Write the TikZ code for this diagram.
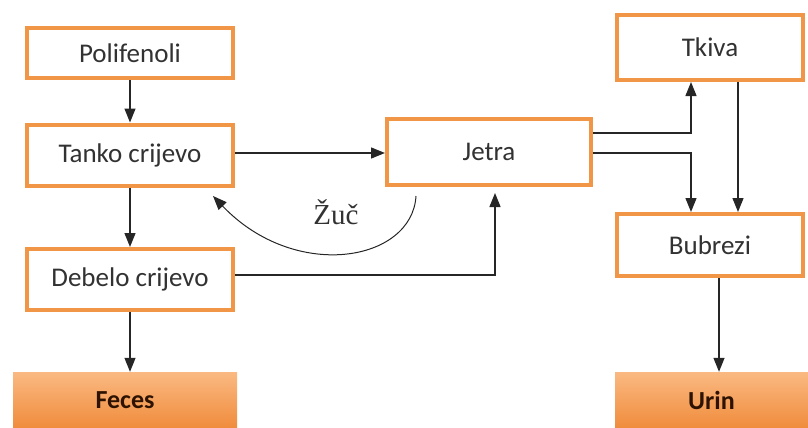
\documentclass[tikz,border=0pt]{standalone}
\usepackage{fontspec}
\setmainfont{Carlito}
\newfontfamily\serifface{Liberation Serif}
\usetikzlibrary{arrows.meta,calc}
\definecolor{boxorange}{RGB}{240,150,70}
\definecolor{fillorangetop}{RGB}{250,185,130}
\definecolor{fillorangebot}{RGB}{240,140,60}
\definecolor{textgray}{RGB}{50,50,50}
\definecolor{textbrown}{RGB}{45,18,0}
\tikzset{
  organ/.style={draw=boxorange, line width=4pt, fill=white, text=textgray,
    font=\fontsize{27}{30}\selectfont, inner sep=0pt},
  outlet/.style={top color=fillorangetop, bottom color=fillorangebot, draw=none,
    text=textbrown, font=\fontsize{26}{30}\selectfont\bfseries, inner sep=0pt},
  flow/.style={draw=black!85, line width=1.3pt, -{Triangle[length=14pt,width=11pt]}}
}
\begin{document}
\begin{tikzpicture}[x=1pt,y=-1pt]
  \useasboundingbox (0,0) rectangle (808,428);
  % left column: digestive tract
  \node[organ, minimum width=206pt, minimum height=50pt] (poli) at (130,53) {Polifenoli};
  \node[organ, minimum width=206pt, minimum height=61pt] (tanko) at (130,155) {Tanko crijevo};
  \node[organ, minimum width=206pt, minimum height=61pt] (debelo) at (130,279.5) {Debelo crijevo};
  \node[outlet, minimum width=224pt, minimum height=56pt] (feces) at (125,400) {Feces};
  % liver
  \node[organ, minimum width=204pt, minimum height=66pt] (jetra) at (489,152) {Jetra};
  % right column
  \node[organ, minimum width=186pt, minimum height=65pt] (tkiva) at (710,47.5) {Tkiva};
  \node[organ, minimum width=186pt, minimum height=62pt] (bubrezi) at (710,245) {Bubrezi};
  \node[outlet, minimum width=193pt, minimum height=56pt] (urin) at (711.5,400) {Urin};

  % vertical flow on the left
  \draw[flow] (poli.south) -- (tanko.north);
  \draw[flow] (tanko.south) -- (debelo.north);
  \draw[flow] (debelo.south) -- (debelo.south |- feces.north);

  % absorption into the liver
  \draw[flow] (tanko.east |- 0,153) -- (jetra.west |- 0,153);
  \draw[flow, shorten >=6pt] (debelo.east |- 0,275) -| ([xshift=6pt]jetra.south);

  % bile back to the small intestine
  \coordinate (bileout) at (416,196);
  \coordinate (bilein) at (213,196);
  \draw[flow, line width=1pt] (bileout) .. controls (412,262) and (295,282) .. (bilein);
  \node[font=\serifface\fontsize{29}{32}\selectfont, text=textgray] (zuc) at (336,212) {Žuč};

  % distribution from the liver
  \draw[flow] (jetra.east |- 0,133) -| ([xshift=-19pt]tkiva.south);
  \draw[flow] (jetra.east |- 0,153) -| ([xshift=-19pt]bubrezi.north);
  \draw[flow] ([xshift=28pt]tkiva.south) -- ([xshift=28pt]bubrezi.north);
  \draw[flow] ([xshift=9pt]bubrezi.south) -- ([xshift=9pt]bubrezi.south |- urin.north);
\end{tikzpicture}
\end{document}
